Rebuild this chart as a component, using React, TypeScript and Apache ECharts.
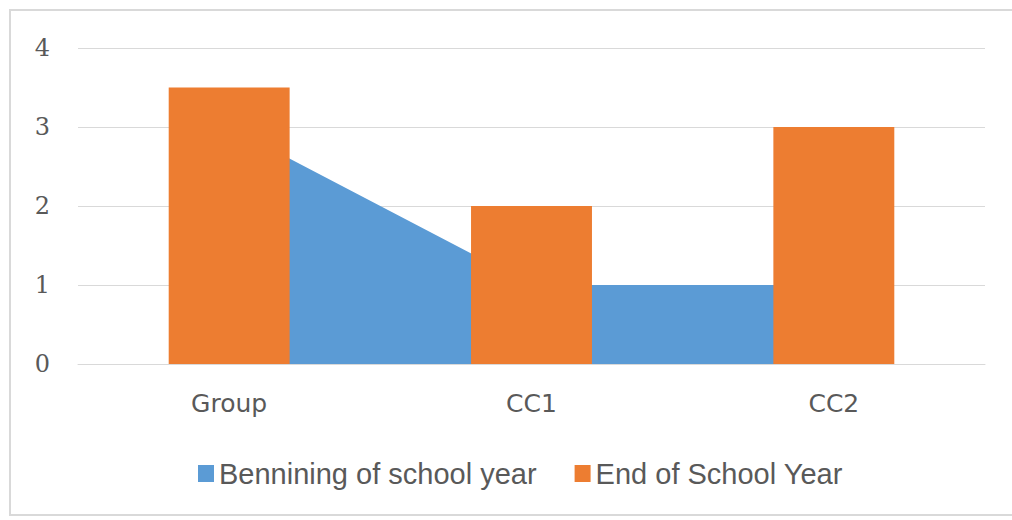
import React, { useEffect, useRef } from "react";
import * as echarts from "echarts";

const categories = ["Group", "CC1", "CC2"];
const beginningValues = [3, 1, 1];
const endValues = [3.5, 2, 3];
const yTicks = { min: 0, max: 4, interval: 1 };
const seriesNames = ["Bennining of school year", "End of School Year"];

export default function App() {
  const ref = useRef<HTMLDivElement>(null);
  useEffect(() => {
    if (!ref.current) return;
    const chart = echarts.init(ref.current, null, { renderer: "svg" });
    chart.setOption({
      animation: false,
      backgroundColor: "#ffffff",
      graphic: [
        {
          type: "rect",
          shape: { x: 10, y: 10, width: 1010, height: 505 },
          style: { fill: "none", stroke: "#d9d9d9", lineWidth: 2 },
          silent: true,
          z: -10,
        },
      ],
      grid: { left: 78, right: 27, top: 48, bottom: 156 },
      legend: {
        left: 193,
        top: 454,
        icon: "rect",
        itemWidth: 16,
        itemHeight: 17,
        itemGap: 38,
        textStyle: { fontFamily: "Liberation Sans", fontSize: 29, color: "#595959" },
        data: seriesNames,
      },
      xAxis: {
        type: "category",
        data: categories,
        boundaryGap: true,
        axisLine: { show: true, lineStyle: { color: "#d9d9d9", width: 1 } },
        axisTick: { show: false },
        axisLabel: { fontFamily: "DejaVu Sans", fontSize: 25, color: "#595959", margin: 27 },
      },
      yAxis: {
        type: "value",
        min: yTicks.min,
        max: yTicks.max,
        interval: yTicks.interval,
        axisLine: { show: false },
        axisTick: { show: false },
        splitLine: { lineStyle: { color: "#d9d9d9", width: 1 } },
        axisLabel: { fontFamily: "DejaVu Serif", fontSize: 24, color: "#595959", margin: 28 },
      },
      series: [
        {
          name: seriesNames[0],
          type: "line",
          data: beginningValues,
          symbol: "none",
          z: 1,
          lineStyle: { width: 0, color: "#5b9bd5" },
          itemStyle: { color: "#5b9bd5" },
          areaStyle: { color: "#5b9bd5", opacity: 1 },
        },
        {
          name: seriesNames[1],
          type: "bar",
          data: endValues,
          barWidth: "40%",
          z: 5,
          itemStyle: { color: "#ed7d31" },
        },
      ],
    });
    return () => chart.dispose();
  }, []);
  return (
    <div
      ref={ref}
      style={{ position: "fixed", left: 0, top: 0, width: 1012, height: 520 }}
    />
  );
}
